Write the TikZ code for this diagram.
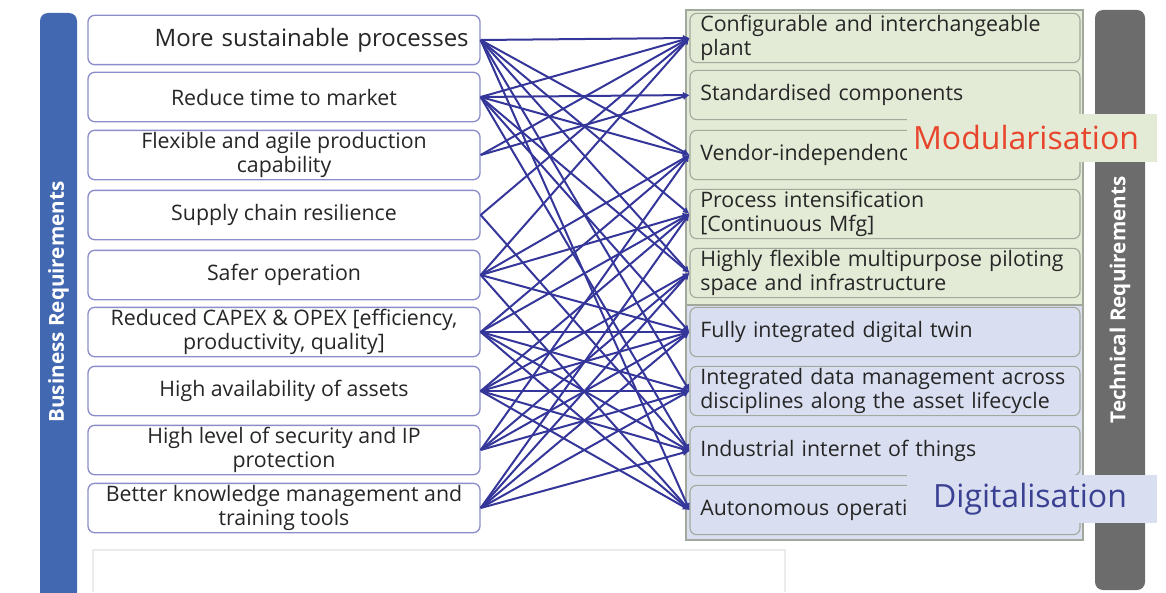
\documentclass[tikz,border=0pt]{standalone}
\usepackage{fontspec}
\setmainfont{Open Sans}
\usetikzlibrary{arrows.meta}

\definecolor{bizblue}{HTML}{4368B2}
\definecolor{techgray}{HTML}{6C6C6C}
\definecolor{linkblue}{HTML}{35369A}
\definecolor{boxedge}{HTML}{8C8ECB}
\definecolor{techedge}{HTML}{A3A89C}
\definecolor{modgreen}{HTML}{E3EBD6}
\definecolor{digiblue}{HTML}{D9DFF0}
\definecolor{modred}{HTML}{E8452C}
\definecolor{digitext}{HTML}{3B4192}
\definecolor{textgray}{HTML}{262626}

\begin{document}
\begin{tikzpicture}[x=0.75pt,y=-0.75pt,
  busbox/.style={draw=boxedge, line width=1pt, rounded corners=5pt, fill=white,
    minimum width=294pt, minimum height=37pt, align=center, inner sep=1pt,
    text=textgray, font=\fontsize{16}{18.5}\selectfont},
  techbox/.style={draw=techedge, line width=0.8pt, rounded corners=5pt,
    minimum width=292.5pt, minimum height=37pt, text width=277pt, align=left,
    inner xsep=7.5pt, inner ysep=1pt, text=textgray, font=\fontsize{16}{18.5}\selectfont},
  sidebar/.style={rounded corners=6pt, draw=none},
  barlabel/.style={rotate=90, text=white, font=\fontsize{15.5}{17}\bfseries\selectfont},
  grouplabel/.style={font=\fontsize{24}{26}\selectfont, inner sep=0pt,
    minimum width=187.5pt, minimum height=36pt},
  link/.style={draw=linkblue, line width=1.5pt, -{Latex[length=5pt,width=5pt]}}]

\useasboundingbox (0,0) rectangle (1166,592);

% faint frame at the bottom
\draw[black!8, line width=0.8pt] (93,592) -- (93,550) -- (785,550) -- (785,592);

% side bars
\fill[bizblue, sidebar] (40,13) rectangle (77,600);
\node[barlabel] (bizlabel) at (58.5,302) {Business Requirements};
\fill[techgray, sidebar] (1095,10) rectangle (1145,590);
\node[barlabel] (techlabel) at (1120,300) {Technical Requirements};

% groups behind the technical requirements
\draw[techedge, fill=modgreen, line width=0.8pt] (686,10) rectangle (1083,305);
\draw[techedge, fill=digiblue, line width=0.8pt] (686,305) rectangle (1083,540);

% business requirements
\node[busbox, font=\fontsize{18}{20}\selectfont, text width=277pt, align=right] (b1) at (284,40) {More sustainable processes};
\node[busbox] (b2) at (284,97) {Reduce time to market};
\node[busbox] (b3) at (284,155) {Flexible and agile production\\capability};
\node[busbox] (b4) at (284,215) {Supply chain resilience};
\node[busbox] (b5) at (284,275) {Safer operation};
\node[busbox] (b6) at (284,332) {Reduced CAPEX \& OPEX [efficiency,\\productivity, quality]};
\node[busbox] (b7) at (284,391) {High availability of assets};
\node[busbox] (b8) at (284,450) {High level of security and IP\\protection};
\node[busbox] (b9) at (284,508) {Better knowledge management and\\training tools};

% technical requirements
\node[techbox, fill=modgreen] (t1) at (885,38) {Configurable and interchangeable\\plant};
\node[techbox, fill=modgreen] (t2) at (885,95) {Standardised components};
\node[techbox, fill=modgreen] (t3) at (885,155) {Vendor-independence};
\node[techbox, fill=modgreen] (t4) at (885,214) {Process intensification\\{[Continuous Mfg]}};
\node[techbox, fill=modgreen] (t5) at (885,273) {Highly flexible multipurpose piloting\\space and infrastructure};
\node[techbox, fill=digiblue] (t6) at (885,332) {Fully integrated digital twin};
\node[techbox, fill=digiblue] (t7) at (885,391) {Integrated data management across\\disciplines along the asset lifecycle};
\node[techbox, fill=digiblue] (t8) at (885,451) {Industrial internet of things};
\node[techbox, fill=digiblue] (t9) at (885,510) {Autonomous operations};

% group labels
\node[grouplabel, fill=modgreen, text=modred] (modlabel) at (1032,137.5) {\hspace*{-9pt}Modularisation};
\node[grouplabel, fill=digiblue, text=digitext] (digilabel) at (1032,499) {\hspace*{-3pt}Digitalisation};

% requirement links
\foreach \j in {1,3,4,5,7,9} \draw[link] (b1.east) -- (t\j.west);
\foreach \j in {1,2,3,5,6,8} \draw[link] (b2.east) -- (t\j.west);
\foreach \j in {1,2} \draw[link] (b3.east) -- (t\j.west);
\foreach \j in {1,8} \draw[link] (b4.east) -- (t\j.west);
\foreach \j in {1,3,4,6,9} \draw[link] (b5.east) -- (t\j.west);
\foreach \j in {3,4,6,7,8,9} \draw[link] (b6.east) -- (t\j.west);
\foreach \j in {4,5,6,7,8,9} \draw[link] (b7.east) -- (t\j.west);
\foreach \j in {3,5,6,7} \draw[link] (b8.east) -- (t\j.west);
\foreach \j in {4,5,6,7,8} \draw[link] (b9.east) -- (t\j.west);
\end{tikzpicture}
\end{document}
